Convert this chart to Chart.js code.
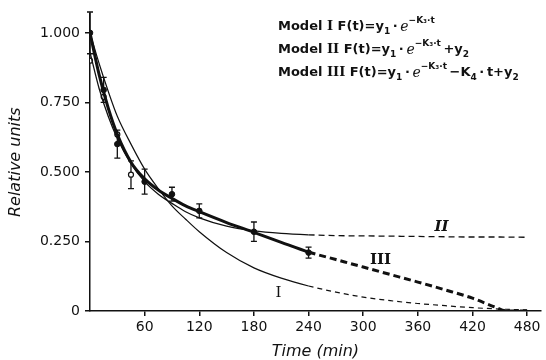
<!DOCTYPE html>
<html lang="en">
<head>
  <meta charset="UTF-8">
  <title>Model fits - relative units vs time</title>
  <script src="https://cdn.jsdelivr.net/npm/chart.js"></script>
  <style>
    html, body { margin: 0; padding: 0; background: #fff; }
    #wrap { width: 546px; height: 360px; }
  </style>
</head>
<body>
<div id="wrap"><canvas id="fitChart" width="546" height="360"></canvas></div>

<script>
  // measured points (mean +/- error)
  const pointTimes = [0, 15, 30, 60, 90, 120, 180, 240];
  const pointMeans = [1.0, 0.795, 0.60, 0.465, 0.42, 0.36, 0.285, 0.21];
  const pointErrs  = [0.075, 0.045, 0.05, 0.045, 0.025, 0.025, 0.035, 0.02];
  // second (open) set
  const openTimes = [0, 15, 30, 45];
  const openVals  = [0.90, 0.77, 0.635, 0.49];
  const openErrs  = [0, 0, 0, 0.05];

  // fitted curves
  const curveTimes = [0, 10, 20, 30, 45, 60, 75, 90, 105, 120, 150, 180, 210, 240, 270, 300, 330, 360, 390, 420, 450, 480];
  const model1 = [1.00, 0.89, 0.79, 0.70, 0.60, 0.51, 0.44, 0.378, 0.33, 0.285, 0.21, 0.155, 0.118, 0.09, 0.068, 0.05, 0.037, 0.027, 0.019, 0.012, 0.007, 0.004];
  const model2 = [0.93, 0.80, 0.70, 0.62, 0.53, 0.465, 0.42, 0.387, 0.357, 0.335, 0.305, 0.288, 0.279, 0.274, 0.271, 0.27, 0.269, 0.268, 0.267, 0.266, 0.266, 0.265];
  const model3Times = [0, 10, 20, 30, 45, 60, 75, 90, 105, 120, 150, 180, 210, 240, 270, 300, 330, 360, 390, 420, 445, 458, 480];
  const model3 = [1.00, 0.85, 0.73, 0.635, 0.535, 0.475, 0.435, 0.405, 0.378, 0.357, 0.318, 0.283, 0.247, 0.212, 0.185, 0.158, 0.131, 0.104, 0.076, 0.046, 0.014, 0.0, 0.0];

  const xTicks = [60, 120, 180, 240, 300, 360, 420, 480];
  const xTickLabels = ['60', '120', '180', '240', '300', '360', '420', '480'];
  const yTicks = [0, 0.25, 0.5, 0.75, 1.0];
  const yTickLabels = ['0', '0.250', '0.500', '0.750', '1.000'];

  const curveLabels = [
    { text: 'I', t: 207, v: 0.065, font: '15px "DejaVu Serif"' },
    { text: 'II', t: 386, v: 0.30, font: 'italic bold 15px "DejaVu Serif"' },
    { text: 'III', t: 319, v: 0.183, font: 'bold 15px "DejaVu Serif"' }
  ];

  const INK = '#111';
  const DASH_FROM = 240;

  function toXY(xs, ys) {
    return xs.map((x, i) => ({ x: x, y: ys[i] }));
  }

  function dashAfter(pattern) {
    return ctx => ctx.p0.parsed.x >= DASH_FROM ? pattern : undefined;
  }

  // legend formulas, drawn as rich text runs: [text, font, raise]
  const B = 'bold 13px "DejaVu Sans"';
  const R = 'bold 13px "DejaVu Serif"';
  const S = 'bold 9px "DejaVu Sans"';
  const E = 'italic 14px "DejaVu Serif"';
  const formulaStart = [278, 278, 278];
  const formulaLines = [
    [['Model ', B], ['I ', R], ['F(t)=y', B], ['1', S, 5], ['\u2009·\u2009', B], ['e', E], ['−K₃·t', S, -6]],
    [['Model ', B], ['II ', R], ['F(t)=y', B], ['1', S, 5], ['\u2009·\u2009', B], ['e', E], ['−K₃·t', S, -6], ['\u2009+y', B], ['2', S, 5]],
    [['Model ', B], ['III ', R], ['F(t)=y', B], ['1', S, 5], ['\u2009·\u2009', B], ['e', E], ['−K₃·t', S, -6], ['\u2009−K', B], ['4', S, 5], ['\u2009·\u2009t+y', B], ['2', S, 5]]
  ];

  const extras = {
    id: 'extras',
    beforeDatasetsDraw(chart) {
      const { ctx, scales: { x, y } } = chart;
      ctx.save();
      ctx.strokeStyle = INK;
      ctx.lineWidth = 1.3;
      const bar = (t, v, e) => {
        if (!e) return;
        const px = x.getPixelForValue(t);
        const top = y.getPixelForValue(v + e);
        const bot = y.getPixelForValue(v - e);
        ctx.beginPath();
        ctx.moveTo(px, top); ctx.lineTo(px, bot);
        ctx.moveTo(px - 3, top); ctx.lineTo(px + 3, top);
        ctx.moveTo(px - 3, bot); ctx.lineTo(px + 3, bot);
        ctx.stroke();
      };
      pointTimes.forEach((t, i) => bar(t, pointMeans[i], pointErrs[i]));
      openTimes.forEach((t, i) => bar(t, openVals[i], openErrs[i]));
      ctx.restore();
    },
    afterDraw(chart) {
      const { ctx, scales: { x, y } } = chart;
      ctx.save();
      ctx.fillStyle = INK;
      ctx.textBaseline = 'middle';
      ctx.textAlign = 'left';
      const lineY = [27, 50, 73];
      formulaLines.forEach((runs, i) => {
        let px = formulaStart[i];
        runs.forEach(r => {
          ctx.font = r[1];
          ctx.fillText(r[0], px, lineY[i] + (r[2] || 0));
          px += ctx.measureText(r[0]).width;
        });
      });
      ctx.textAlign = 'center';
      curveLabels.forEach(l => {
        ctx.font = l.font;
        ctx.fillText(l.text, x.getPixelForValue(l.t), y.getPixelForValue(l.v));
      });
      ctx.restore();
    }
  };

  document.addEventListener('DOMContentLoaded', function () {
    const ctx = document.getElementById('fitChart').getContext('2d');
    new Chart(ctx, {
      type: 'line',
      data: {
        datasets: [
          {
            label: 'Model I',
            data: toXY(curveTimes, model1),
            borderColor: INK, borderWidth: 1.2,
            pointRadius: 0, cubicInterpolationMode: 'monotone',
            segment: { borderDash: dashAfter([5, 4]) }
          },
          {
            label: 'Model II',
            data: toXY(curveTimes, model2),
            borderColor: INK, borderWidth: 1.3,
            pointRadius: 0, cubicInterpolationMode: 'monotone',
            segment: { borderDash: dashAfter([6, 4]) }
          },
          {
            label: 'Model III',
            data: toXY(model3Times, model3),
            borderColor: INK, borderWidth: 3,
            pointRadius: 0, cubicInterpolationMode: 'monotone',
            segment: { borderDash: dashAfter([7, 4]) }
          },
          {
            label: 'mean',
            data: toXY(pointTimes, pointMeans),
            showLine: false,
            pointRadius: 2.8, pointBackgroundColor: INK, pointBorderColor: INK
          },
          {
            label: 'open',
            data: toXY(openTimes, openVals),
            showLine: false,
            pointRadius: 2.5, pointBackgroundColor: '#fff', pointBorderColor: INK, pointBorderWidth: 1.2
          }
        ]
      },
      options: {
        responsive: false,
        devicePixelRatio: 1,
        animation: false,
        layout: { padding: { top: 12, right: 1, left: 0, bottom: 0 } },
        plugins: { legend: { display: false }, tooltip: { enabled: false } },
        scales: {
          x: {
            type: 'linear', min: 0, max: 495,
            afterFit: s => { s.height = 49; },
            afterBuildTicks: s => { s.ticks = xTicks.map(v => ({ value: v })); },
            grid: { drawOnChartArea: false, color: INK, lineWidth: 1.5, tickLength: 5 },
            border: { color: INK, width: 1.5 },
            ticks: {
              color: INK, padding: 3, maxRotation: 0,
              font: { family: 'DejaVu Sans', size: 14 },
              callback: (v, i) => xTickLabels[i]
            },
            title: {
              display: true, text: 'Time (min)', color: INK,
              font: { family: 'DejaVu Sans', size: 16, style: 'italic', lineHeight: 1 },
              padding: 0
            }
          },
          y: {
            type: 'linear', min: 0, max: 1.07,
            afterFit: s => { s.width = 90; },
            afterBuildTicks: s => { s.ticks = yTicks.map(v => ({ value: v })); },
            grid: { drawOnChartArea: false, color: INK, lineWidth: 1.5, tickLength: 5 },
            border: { color: INK, width: 1.5 },
            ticks: {
              color: INK, padding: 5,
              font: { family: 'DejaVu Sans', size: 14 },
              callback: (v, i) => yTickLabels[i]
            },
            title: {
              display: true, text: 'Relative units', color: INK,
              font: { family: 'DejaVu Sans', size: 16, style: 'italic', lineHeight: 1 },
              padding: { top: 8, bottom: 0 }
            }
          }
        }
      },
      plugins: [extras]
    });
  });
</script>
</body>
</html>
